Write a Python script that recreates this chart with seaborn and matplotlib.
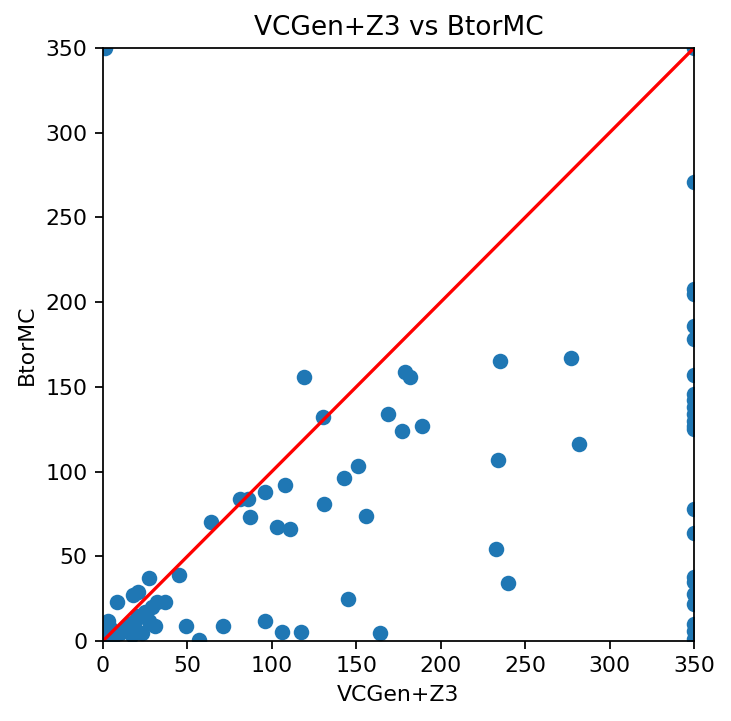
import matplotlib
matplotlib.use("Agg")
import matplotlib.pyplot as plt
import seaborn as sns
import pandas as pd

# runtimes (s), timeouts drawn at 350
vcgen_z3 = [
    1, 350,
    350, 350, 350, 350, 350, 350, 350, 350, 350, 350, 350, 350, 350, 350,
    350, 350, 350, 350, 350, 350, 350, 350,
    119, 130, 179, 182, 235, 277, 169, 177, 189, 282, 234, 151, 143, 131,
    156, 108, 96, 81, 86, 87, 64, 103, 111, 233, 240, 145,
    45, 37, 49, 57, 71, 96, 106, 117, 164,
    27, 21, 8, 18, 32, 29, 25, 21, 31, 23, 3, 4, 13, 16, 10, 1, 6, 17, 19, 27,
]
btormc = [
    350, 350,
    271, 208, 205, 186, 178, 157, 146, 142, 138, 134, 130, 127, 125, 78,
    64, 38, 35, 28, 22, 10, 6, 1,
    156, 132, 159, 156, 165, 167, 134, 124, 127, 116, 107, 103, 96, 81,
    74, 92, 88, 84, 84, 73, 70, 67, 66, 54, 34, 25,
    39, 23, 9, 0.5, 9, 12, 5, 5, 4.5,
    37, 29, 23, 27, 23, 20, 17, 15, 9, 4.5, 12, 7.5, 7.5, 10, 4.5, 3.5, 2.5, 3.5, 12, 12,
]
limit = [0, 350]

df = pd.DataFrame({"VCGen+Z3": vcgen_z3, "BtorMC": btormc})

DPI = 158
fig = plt.figure(figsize=(731 / DPI, 721 / DPI), dpi=DPI)
ax = fig.add_axes([0.1409, 0.111, 0.8085, 0.8225])
sns.scatterplot(data=df, x="VCGen+Z3", y="BtorMC", s=50, color="#1f77b4",
                linewidth=0, ax=ax)
ax.plot(limit, limit, color="red")
ax.set_xlim(limit)
ax.set_ylim(limit)
ax.set_title("VCGen+Z3 vs BtorMC")
fig.savefig("out.png", dpi=DPI)
